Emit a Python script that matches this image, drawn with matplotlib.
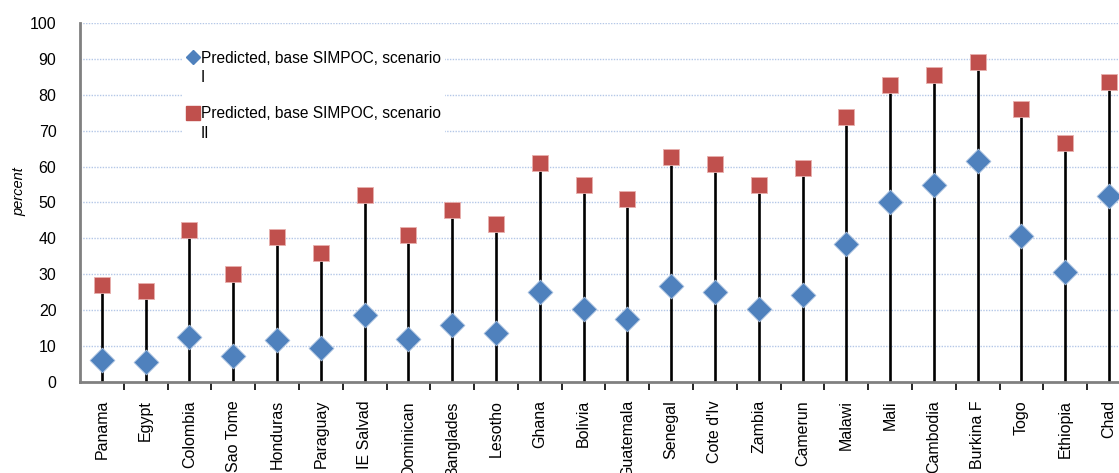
import matplotlib
matplotlib.use("Agg")
import matplotlib.pyplot as plt
from matplotlib.lines import Line2D
from matplotlib.legend_handler import HandlerLine2D
from matplotlib.transforms import Affine2D

plt.rcParams['font.family'] = ['Liberation Sans', 'DejaVu Sans']

countries = ["Panama", "Egypt", "Colombia", "Sao Tome", "Honduras", "Paraguay",
             "IE Salvad", "Dominican", "Banglades", "Lesotho", "Ghana", "Bolivia",
             "Guatemala", "Senegal", "Cote d'Iv", "Zambia", "Camerun", "Malawi",
             "Mali", "Cambodia", "Burkina F", "Togo", "Ethiopia", "Chad"]
scenario_1 = [6.0, 5.5, 12.5, 7.2, 11.7, 9.4, 18.6, 12.0, 15.8, 13.6, 25.2, 20.3,
              17.6, 26.7, 25.0, 20.3, 24.2, 38.3, 50.2, 55.0, 61.6, 40.6, 30.5, 51.7]
scenario_2 = [27.0, 25.3, 42.2, 30.0, 40.5, 35.8, 52.2, 41.0, 48.0, 43.9, 60.9, 54.9,
              51.0, 62.8, 60.6, 55.0, 59.7, 73.9, 82.8, 85.6, 89.2, 76.1, 66.7, 83.6]
yticks = list(range(0, 101, 10))
label_1 = "Predicted, base SIMPOC, scenario\nI"
label_2 = "Predicted, base SIMPOC, scenario\nII"

blue = "#4f81bd"
red = "#c0504d"
axis_grey = "#808080"


class TopLineHandler(HandlerLine2D):
    """Place the legend marker level with the first line of a wrapped label."""

    def __init__(self, shift, **kw):
        super().__init__(**kw)
        self.shift = shift

    def create_artists(self, legend, orig_handle, xdescent, ydescent,
                       width, height, fontsize, trans):
        arts = super().create_artists(legend, orig_handle, xdescent, ydescent,
                                      width, height, fontsize, trans)
        moved = Affine2D().translate(0, self.shift) + trans
        for a in arts:
            a.set_transform(moved)
        return arts


fig = plt.figure(figsize=(11.19, 4.73), dpi=100)
ax = fig.add_axes([0.0715, 0.1924, 0.9392, 0.759])

x = list(range(len(countries)))
ax.vlines(x, 0, scenario_2, color="black", lw=1.9, zorder=2)
ax.scatter(x, scenario_2, marker="s", s=125, color=red, edgecolors="#e8b0ae",
           linewidths=0.6, zorder=3)
ax.scatter(x, scenario_1, marker="D", s=160, color=blue, edgecolors="#a9c1e0",
           linewidths=0.6, zorder=4)

ax.set_xlim(-0.5, len(countries) - 0.5)
ax.set_ylim(0, 100)
ax.set_yticks(yticks)
ax.set_yticklabels([str(v) for v in yticks], fontsize=11.5)
ax.tick_params(axis="y", length=0, pad=17)

for v in yticks[1:]:
    ax.axhline(v, color="#b4c7e7", lw=1.0, ls=(0, (1, 1)), zorder=1)

ax.set_xticks(x)
ax.set_xticklabels(countries, rotation=90, fontsize=11.5, va="top")
ax.set_xticks([i - 0.5 for i in range(1, len(countries) + 1)], minor=True)
ax.tick_params(axis="x", which="major", length=0, pad=13)
ax.tick_params(axis="x", which="minor", length=6, width=1.2, color="black",
               direction="out")

for side in ("top", "right"):
    ax.spines[side].set_visible(False)
for side in ("left", "bottom"):
    ax.spines[side].set_color(axis_grey)
    ax.spines[side].set_linewidth(2)

ax.set_ylabel("percent", fontsize=10.5, style="italic")
ax.yaxis.set_label_coords(-0.051, 0.53)

handles = [
    Line2D([], [], marker="D", color=blue, ls="none", markersize=7.6),
    Line2D([], [], marker="s", color=red, ls="none", markersize=9.6),
]
leg = fig.legend(handles, [label_1, label_2], loc="upper left",
                 bbox_to_anchor=(0.163, 0.903), frameon=True, fontsize=11.2,
                 handlelength=0.75, handletextpad=0.12, labelspacing=1.35,
                 borderpad=0.3, borderaxespad=0,
                 handler_map={h: TopLineHandler(8.0) for h in handles})
leg.get_frame().set_facecolor("white")
leg.get_frame().set_edgecolor("none")
leg.get_frame().set_alpha(1)
for t in leg.get_texts():
    t.set_linespacing(1.4)

fig.savefig("out.png", dpi=100)
